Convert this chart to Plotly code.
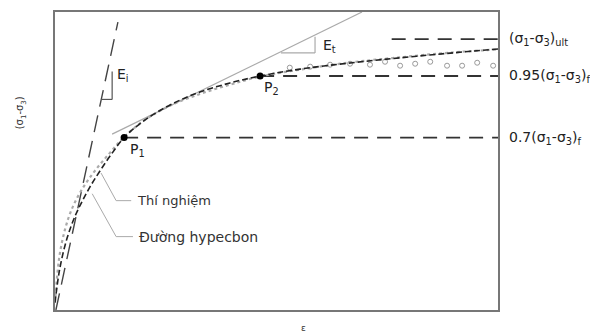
import plotly.graph_objects as go

# ---- data (strain in arbitrary %, deviator stress normalised by (s1-s3)f) ----
hyp_x = [0.0, 0.11, 0.27, 0.45, 0.61, 0.79, 1.02, 1.29, 1.56, 1.92, 2.37, 2.82, 3.27, 3.95, 4.63, 5.53, 6.66, 7.79, 8.92, 10.0]
hyp_y = [0.03, 0.17, 0.29, 0.38, 0.44, 0.50, 0.566, 0.637, 0.70, 0.757, 0.810, 0.852, 0.885, 0.922, 0.95, 0.978, 1.003, 1.024, 1.043, 1.060]

exp_x = [0.0, 0.05, 0.11, 0.23, 0.38, 0.61, 0.90, 1.24, 1.56, 2.03, 2.60, 3.27, 3.95, 4.63, 5.53, 6.66, 7.79, 8.92, 10.0]
exp_y = [0.03, 0.14, 0.23, 0.33, 0.41, 0.49, 0.565, 0.638, 0.702, 0.772, 0.830, 0.877, 0.915, 0.948, 0.976, 1.005, 1.026, 1.045, 1.058]

pts_x = [5.30, 5.76, 6.21, 6.66, 7.11, 7.45, 7.79, 8.13, 8.47, 8.85, 9.19, 9.53, 9.89]
pts_y = [0.984, 0.988, 0.996, 1.000, 0.996, 1.008, 0.992, 1.000, 1.008, 0.992, 0.992, 1.004, 0.992]

p_x = [1.56, 4.63]
p_y = [0.70, 0.95]
p_labels = ["P<sub>1</sub>", "P<sub>2</sub>"]

levels = [1.10, 0.95, 0.70]
level_start = [7.6, 4.63, 1.56]
level_labels = ["(σ<sub>1</sub>-σ<sub>3</sub>)<sub>ult</sub>", "0.95(σ<sub>1</sub>-σ<sub>3</sub>)<sub>f</sub>", "0.7(σ<sub>1</sub>-σ<sub>3</sub>)<sub>f</sub>"]

ei_x = [0.02, 1.42]
ei_y = [0.0, 1.169]
et_x = [1.29, 6.93]
et_y = [0.714, 1.21]

X_MAX = 10.0
Y_MAX = 1.21

fig = go.Figure()

# initial tangent modulus line
fig.add_trace(go.Scatter(x=ei_x, y=ei_y, mode="lines",
                         line=dict(color="#444", width=1.4, dash="17px,9px"), hoverinfo="skip"))
# second tangent line
fig.add_trace(go.Scatter(x=et_x, y=et_y, mode="lines",
                         line=dict(color="#aaa", width=1.2), hoverinfo="skip"))

# level lines
for lv, xs in zip(levels, level_start):
    fig.add_trace(go.Scatter(x=[xs, X_MAX], y=[lv, lv], mode="lines",
                             line=dict(color="#333", width=1.9, dash="14px,9px"), hoverinfo="skip"))

# experimental curve
fig.add_trace(go.Scatter(x=exp_x, y=exp_y, mode="lines", name="Thí nghiệm",
                         line=dict(color="#aaa", width=2.2, dash="dot", shape="spline")))
fig.add_trace(go.Scatter(x=pts_x, y=pts_y, mode="markers",
                         marker=dict(symbol="circle-open", size=5, color="#999", line=dict(width=1))))
# hyperbolic curve
fig.add_trace(go.Scatter(x=hyp_x, y=hyp_y, mode="lines", name="Đường hypecbon",
                         line=dict(color="#222", width=1.6, dash="6px,3px", shape="spline")))

# P points
fig.add_trace(go.Scatter(x=p_x, y=p_y, mode="markers",
                         marker=dict(color="black", size=7)))

shapes = []
# Ei triangle
shapes.append(dict(type="line", x0=1.04, y0=0.855, x1=1.29, y1=0.855, line=dict(color="#555", width=1.2)))
shapes.append(dict(type="line", x0=1.29, y0=0.855, x1=1.29, y1=0.968, line=dict(color="#555", width=1.2)))
# Et triangle
shapes.append(dict(type="line", x0=5.10, y0=1.044, x1=5.87, y1=1.044, line=dict(color="#aaa", width=1.2)))
shapes.append(dict(type="line", x0=5.87, y0=1.044, x1=5.87, y1=1.109, line=dict(color="#aaa", width=1.2)))
# leaders
shapes.append(dict(type="path", path="M 1.72 0.444 L 1.38 0.444 L 1.04 0.556", line=dict(color="#aaa", width=1)))
shapes.append(dict(type="path", path="M 1.76 0.298 L 1.38 0.298 L 0.84 0.472", line=dict(color="#aaa", width=1)))

ann = []
FONT = "DejaVu Sans, sans-serif"
for lv, lab in zip(levels, level_labels):
    ann.append(dict(x=1.02, xref="paper", y=lv, yref="y", text=lab, showarrow=False,
                    xanchor="left", yanchor="middle", font=dict(size=14, color="#222", family=FONT)))
offs = [(1.65, 0.649), (4.67, 0.903)]
for (ax, ay), lab in zip(offs, p_labels):
    ann.append(dict(x=ax, y=ay, text=lab, showarrow=False, xanchor="left", yanchor="middle",
                    font=dict(size=14, color="#222", family=FONT)))
ann.append(dict(x=1.36, y=0.955, text="E<sub>i</sub>", showarrow=False, xanchor="left", yanchor="middle",
                font=dict(size=14, color="#222", family=FONT)))
ann.append(dict(x=6.0, y=1.073, text="E<sub>t</sub>", showarrow=False, xanchor="left", yanchor="middle",
                font=dict(size=14, color="#222", family=FONT)))
ann.append(dict(x=1.8, y=0.444, text="Thí nghiệm", showarrow=False, xanchor="left", yanchor="middle",
                font=dict(size=13, color="#333", family=FONT)))
ann.append(dict(x=1.85, y=0.298, text="Đường hypecbon", showarrow=False, xanchor="left", yanchor="middle",
                font=dict(size=14, color="#333", family=FONT)))
ann.append(dict(x=-0.077, xref="paper", y=0.663, yref="paper", text="(σ<sub>1</sub>-σ<sub>3</sub>)",
                showarrow=False, textangle=-90, xanchor="center", yanchor="middle",
                font=dict(size=10, color="#333", family=FONT)))
ann.append(dict(x=0.56, xref="paper", y=-0.06, yref="paper", text="ε", showarrow=False,
                xanchor="center", yanchor="middle",
                font=dict(size=9, color="#333", family=FONT)))

axis_common = dict(showgrid=False, zeroline=False, showticklabels=False, ticks="",
                   showline=True, linecolor="#777", linewidth=2, mirror=True)
fig.update_layout(
    width=598, height=336,
    margin=dict(l=47, r=108, t=2, b=34),
    plot_bgcolor="white", paper_bgcolor="white",
    showlegend=False,
    xaxis=dict(range=[0, X_MAX], **axis_common),
    yaxis=dict(range=[0, Y_MAX], **axis_common),
    shapes=shapes, annotations=ann,
)
fig.write_html("out.html")
